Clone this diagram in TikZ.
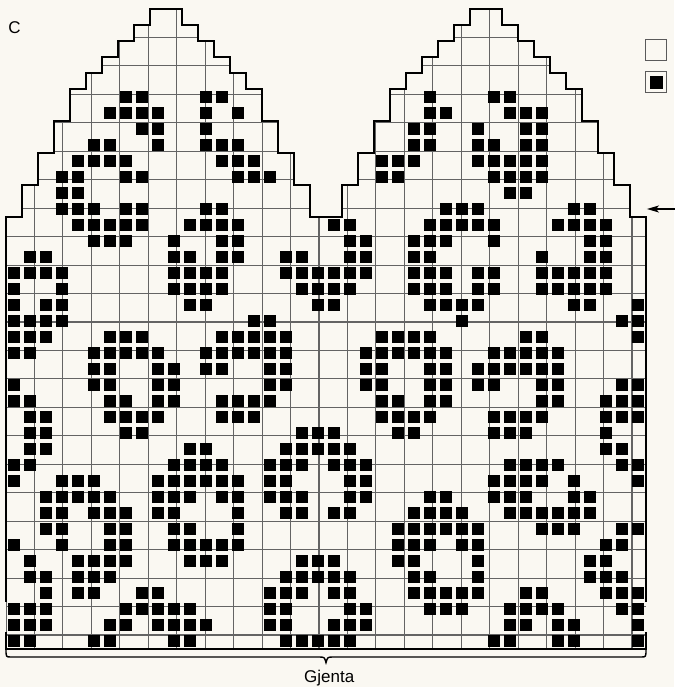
\documentclass[tikz,border=0pt]{standalone}
\usepackage{fontspec}
\setmainfont{Liberation Sans}
\usetikzlibrary{arrows.meta}
\definecolor{cream}{RGB}{250,248,242}
\definecolor{gridgray}{RGB}{100,100,100}
\definecolor{boxgray}{RGB}{90,90,90}
\begin{document}
\begin{tikzpicture}[x=16pt,y=-16pt,
  outline/.style={line width=2.3pt, line join=miter, line cap=rect, black},
  cellfill/.style={fill=black},
  legbox/.style={draw=boxgray, line width=0.9pt, fill=cream, minimum size=21pt, inner sep=0pt},
  lbl/.style={font=\fontsize{17}{20}\selectfont, text=black}]
\useasboundingbox (-0.375,-0.5625) rectangle (41.75,42.375);
\fill[cream] (-0.375,-0.5625) rectangle (41.75,42.375);
% chart area
\begin{scope}
\clip (0,40) -- (0,13) -- (1,13) -- (1,11) -- (2,11) -- (2,9) -- (3,9) -- (3,7) -- (4,7) -- (4,5) -- (5,5) -- (5,4) -- (6,4) -- (6,3) -- (7,3) -- (7,2) -- (8,2) -- (8,1) -- (9,1) -- (9,0) -- (11,0) -- (11,1) -- (12,1) -- (12,2) -- (13,2) -- (13,3) -- (14,3) -- (14,4) -- (15,4) -- (15,5) -- (16,5) -- (16,7) -- (17,7) -- (17,9) -- (18,9) -- (18,11) -- (19,11) -- (19,13) -- (21,13) -- (21,11) -- (22,11) -- (22,9) -- (23,9) -- (23,7) -- (24,7) -- (24,5) -- (25,5) -- (25,4) -- (26,4) -- (26,3) -- (27,3) -- (27,2) -- (28,2) -- (28,1) -- (29,1) -- (29,0) -- (31,0) -- (31,1) -- (32,1) -- (32,2) -- (33,2) -- (33,3) -- (34,3) -- (34,4) -- (35,4) -- (35,5) -- (36,5) -- (36,7) -- (37,7) -- (37,9) -- (38,9) -- (38,11) -- (39,11) -- (39,13) -- (40,13) -- (40,40) -- cycle;
\draw[gridgray, line width=1.1pt] (0,0) grid (40,40);
\end{scope}
% filled stitches
\foreach \r/\cl in {
5/{7,8,12,13,26,30,31},
6/{6,7,8,9,12,14,26,27,31,32,33},
7/{8,9,12,25,26,29,32,33},
8/{5,6,9,12,13,14,25,26,29,30,32,33},
9/{4,5,6,7,13,14,15,23,24,25,29,30,31,32,33},
10/{3,4,7,8,14,15,16,23,24,30,31,32,33},
11/{3,4,31,32},
12/{3,4,5,7,8,12,13,27,28,29,35,36},
13/{4,5,6,7,8,11,12,13,14,20,21,26,27,28,29,30,34,35,36,37},
14/{5,6,7,10,13,14,21,22,25,26,27,30,36,37},
15/{1,2,10,11,13,14,17,18,21,22,25,26,33,36,37},
16/{0,1,2,3,10,11,12,13,17,18,19,20,21,22,25,26,27,29,30,33,34,35,36,37},
17/{0,3,10,11,12,13,18,19,20,21,25,26,27,29,30,33,34,35,36,37},
18/{0,2,3,11,12,19,20,26,27,28,29,35,36,39},
19/{0,1,2,3,15,16,28,38,39},
20/{0,1,2,6,7,8,13,14,15,16,17,23,24,25,26,32,33,39},
21/{0,1,5,6,7,8,9,12,13,14,15,16,17,22,23,24,25,26,27,30,31,32,33,34},
22/{5,6,9,10,12,13,16,17,22,23,26,27,29,30,31,32,33,34},
23/{0,5,6,9,10,16,17,22,23,26,27,29,30,33,34,38,39},
24/{0,1,6,7,9,10,13,14,15,16,23,24,26,27,33,34,37,38,39},
25/{1,2,6,7,8,9,13,14,15,23,24,25,26,30,31,32,33,37,38,39},
26/{1,2,7,8,18,19,20,24,25,30,31,32,37},
27/{1,2,11,12,17,18,19,20,21,37,38},
28/{0,1,10,11,12,13,16,17,18,20,21,22,31,32,33,34,38,39},
29/{0,3,4,5,9,10,11,12,13,14,16,17,21,22,30,31,32,33,35,39},
30/{2,3,4,5,6,9,10,11,13,14,16,17,18,21,22,26,27,30,31,32,35,36},
31/{2,3,5,6,7,9,10,14,17,18,20,21,25,26,27,28,31,32,33,34,35,36},
32/{2,3,6,7,10,11,14,24,25,26,27,28,29,33,34,35,38,39},
33/{0,3,6,7,10,11,12,13,14,24,25,26,28,29,37,38},
34/{1,4,5,6,7,11,12,13,18,19,20,24,25,29,36,37},
35/{1,2,4,5,6,17,18,19,20,21,25,26,29,36,37,38},
36/{2,4,5,8,9,16,17,18,20,21,25,26,27,28,29,32,33,37,38,39},
37/{0,1,2,7,8,9,10,11,16,17,21,22,26,27,28,31,32,33,34,38,39},
38/{0,1,2,6,7,9,10,11,12,16,17,20,21,22,31,32,34,35,39},
39/{0,1,5,6,10,11,17,18,19,20,21,30,31,34,35,39}}{
  \foreach \c in \cl {
    \fill[cellfill] (\c+0.15,\r+0.15) rectangle +(0.7,0.7);
  }
}
% thick outline
\draw[outline] (0,37) -- (0,13) -- (1,13) -- (1,11) -- (2,11) -- (2,9) -- (3,9) -- (3,7) -- (4,7) -- (4,5) -- (5,5) -- (5,4) -- (6,4) -- (6,3) -- (7,3) -- (7,2) -- (8,2) -- (8,1) -- (9,1) -- (9,0) -- (11,0) -- (11,1) -- (12,1) -- (12,2) -- (13,2) -- (13,3) -- (14,3) -- (14,4) -- (15,4) -- (15,5) -- (16,5) -- (16,7) -- (17,7) -- (17,9) -- (18,9) -- (18,11) -- (19,11) -- (19,13) -- (21,13) -- (21,11) -- (22,11) -- (22,9) -- (23,9) -- (23,7) -- (24,7) -- (24,5) -- (25,5) -- (25,4) -- (26,4) -- (26,3) -- (27,3) -- (27,2) -- (28,2) -- (28,1) -- (29,1) -- (29,0) -- (31,0) -- (31,1) -- (32,1) -- (32,2) -- (33,2) -- (33,3) -- (34,3) -- (34,4) -- (35,4) -- (35,5) -- (36,5) -- (36,7) -- (37,7) -- (37,9) -- (38,9) -- (38,11) -- (39,11) -- (39,13) -- (40,13) -- (40,37);
\draw[outline] (0,39) -- (0,40) -- (40,40) -- (40,39);
% brace
\coordinate (bl) at (0,40);
\coordinate (br) at (40,40);
\coordinate (bm) at (20,40.85);
\draw[line width=1.4pt] (bl) .. controls (0,40.5) .. (0.3,40.5) -- (19.55,40.5) .. controls (19.9,40.5) .. (bm) .. controls (20.1,40.5) .. (20.45,40.5) -- (39.7,40.5) .. controls (40,40.5) .. (br);
\node[lbl, anchor=base] (gjenta) at (20.2,42.1) {Gjenta};
% label C
\node[lbl] (lblC) at (0.53,1.15) {C};
% legend
\node[legbox] (leg1) at (40.625,2.58) {};
\node[legbox] (leg2) at (40.625,4.58) {};
\node[fill=black, minimum size=13pt, inner sep=0pt] (leg2in) at (leg2.center) {};
% arrow
\coordinate (arrtail) at (41.8,12.5);
\coordinate (arrtip) at (40.06,12.5);
\draw[line width=1.3pt, -{Stealth[length=12pt,width=7pt,inset=3pt]}] (arrtail) -- (arrtip);
\end{tikzpicture}
\end{document}
